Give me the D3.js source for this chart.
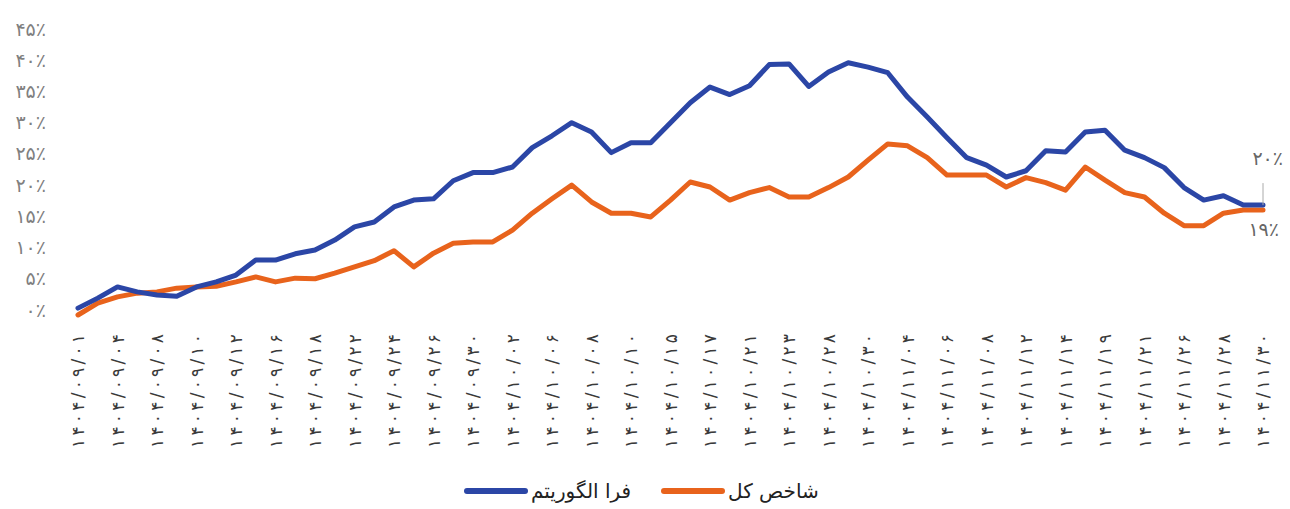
<!DOCTYPE html>
<html>
<head>
<meta charset="utf-8">
<script src="https://cdn.jsdelivr.net/npm/d3@7"></script>
<style>
  body { margin: 0; background: #fff; }
  svg { display: block; font-family: "DejaVu Sans", sans-serif; }
</style>
</head>
<body>
<svg width="1290" height="509"></svg>
<script>
// tick labels (every second point)
var dateLabels = [
  '۱۴۰۴/۰۹/۰۱','۱۴۰۴/۰۹/۰۴','۱۴۰۴/۰۹/۰۸','۱۴۰۴/۰۹/۱۰','۱۴۰۴/۰۹/۱۲','۱۴۰۴/۰۹/۱۶',
  '۱۴۰۴/۰۹/۱۸','۱۴۰۴/۰۹/۲۲','۱۴۰۴/۰۹/۲۴','۱۴۰۴/۰۹/۲۶','۱۴۰۴/۰۹/۳۰','۱۴۰۴/۱۰/۰۲',
  '۱۴۰۴/۱۰/۰۶','۱۴۰۴/۱۰/۰۸','۱۴۰۴/۱۰/۱۰','۱۴۰۴/۱۰/۱۵','۱۴۰۴/۱۰/۱۷','۱۴۰۴/۱۰/۲۱',
  '۱۴۰۴/۱۰/۲۳','۱۴۰۴/۱۰/۲۸','۱۴۰۴/۱۰/۳۰','۱۴۰۴/۱۱/۰۴','۱۴۰۴/۱۱/۰۶','۱۴۰۴/۱۱/۰۸',
  '۱۴۰۴/۱۱/۱۲','۱۴۰۴/۱۱/۱۴','۱۴۰۴/۱۱/۱۹','۱۴۰۴/۱۱/۲۱','۱۴۰۴/۱۱/۲۶','۱۴۰۴/۱۱/۲۸',
  '۱۴۰۴/۱۱/۳۰'
];
var yTicks = [0, 5, 10, 15, 20, 25, 30, 35, 40, 45];

// فرا الگوریتم (percent)
var algoValues = [
  0.3, 1.9, 3.7, 2.9, 2.4, 2.2, 3.7, 4.5, 5.6, 8.0,
  8.0, 9.0, 9.6, 11.2, 13.3, 14.1, 16.5, 17.6, 17.8, 20.7,
  22.0, 22.0, 22.9, 26.0, 27.9, 30.0, 28.5, 25.2, 26.8, 26.8,
  30.0, 33.2, 35.7, 34.5, 35.9, 39.3, 39.4, 35.8, 38.1, 39.6,
  38.9, 38.0, 34.1, 30.9, 27.6, 24.4, 23.2, 21.3, 22.3, 25.5,
  25.3, 28.5, 28.8, 25.6, 24.4, 22.8, 19.6, 17.6, 18.3, 16.8,
  16.8
];
// شاخص کل (percent)
var indexValues = [
  -0.8, 1.1, 2.1, 2.7, 2.9, 3.5, 3.7, 3.8, 4.5, 5.3,
  4.5, 5.1, 5.0, 5.9, 6.9, 7.9, 9.5, 6.9, 9.1, 10.7,
  10.9, 10.9, 12.8, 15.5, 17.8, 20.0, 17.3, 15.5, 15.5, 14.9,
  17.6, 20.5, 19.7, 17.6, 18.8, 19.6, 18.1, 18.1, 19.6, 21.3,
  24.0, 26.6, 26.3, 24.4, 21.6, 21.6, 21.6, 19.7, 21.2, 20.4,
  19.2, 22.9, 20.8, 18.8, 18.1, 15.5, 13.5, 13.5, 15.5, 16.0,
  16.0
];
var endLabels = ['۲۰٪', '۱۹٪'];
var seriesNames = ['فرا الگوریتم', 'شاخص کل'];
var seriesColors = ['#2b46a6', '#e8631c'];

var faDigits = '۰۱۲۳۴۵۶۷۸۹';
function toFa(n) {
  return String(n).replace(/[0-9]/g, function(d){ return faDigits[+d]; });
}

var svg = d3.select('svg');

var x = d3.scalePoint()
  .domain(d3.range(algoValues.length))
  .range([78, 1263]);

var y = d3.scaleLinear()
  .domain([0, 45])
  .range([310, 29]);

// y axis
var yAxis = svg.append('g')
  .attr('transform', 'translate(46,0)')
  .call(d3.axisLeft(y).tickValues(yTicks).tickSize(0).tickPadding(0)
    .tickFormat(function(d){ return toFa(d) + '٪'; }));
yAxis.select('.domain').remove();
yAxis.selectAll('text')
  .attr('fill', '#808080')
  .style('font-size', '19px')
  .style('font-family', '"DejaVu Sans", sans-serif');

// x axis
var xAxis = svg.append('g')
  .attr('transform', 'translate(0,331)')
  .call(d3.axisBottom(x)
    .tickValues(d3.range(0, algoValues.length, 2))
    .tickSize(0)
    .tickFormat(function(d){ return dateLabels[d / 2]; }));
xAxis.select('.domain').remove();
xAxis.selectAll('text')
  .attr('fill', '#3a3a3a')
  .style('font-size', '17px')
  .style('font-family', '"DejaVu Sans", sans-serif')
  .attr('text-anchor', 'end')
  .attr('textLength', 114)
  .attr('lengthAdjust', 'spacing')
  .attr('transform', 'rotate(-90)')
  .attr('x', -3)
  .attr('y', 0)
  .attr('dy', '0.35em');

// lines
var line = d3.line()
  .x(function(d, i){ return x(i); })
  .y(function(d){ return y(d); });

[indexValues, algoValues].forEach(function(vals, k){
  svg.append('path')
    .datum(vals)
    .attr('fill', 'none')
    .attr('stroke', k === 0 ? seriesColors[1] : seriesColors[0])
    .attr('stroke-width', 5)
    .attr('stroke-linejoin', 'round')
    .attr('stroke-linecap', 'round')
    .attr('d', line);
});

// end annotations
var lastI = algoValues.length - 1;
svg.append('line')
  .attr('x1', x(lastI)).attr('x2', x(lastI))
  .attr('y1', y(algoValues[lastI]) - 22).attr('y2', y(algoValues[lastI]))
  .attr('stroke', '#aaa')
  .attr('stroke-width', 1);

svg.append('text')
  .attr('x', 1283).attr('y', y(algoValues[lastI]) - 40)
  .attr('text-anchor', 'end')
  .attr('fill', '#666')
  .style('font-size', '19px')
  .text(endLabels[0]);

svg.append('text')
  .attr('x', 1279).attr('y', y(indexValues[lastI]) + 26)
  .attr('text-anchor', 'end')
  .attr('fill', '#666')
  .style('font-size', '19px')
  .text(endLabels[1]);

// legend: text on the right, swatch on its left
var legendItems = [
  {name: seriesNames[0], color: seriesColors[0], x: 467},
  {name: seriesNames[1], color: seriesColors[1], x: 664}
];
var legend = svg.selectAll('.legend')
  .data(legendItems)
  .enter()
  .append('g')
  .attr('class', 'legend')
  .attr('transform', function(d){ return 'translate(' + d.x + ',491)'; });

legend.append('line')
  .attr('x1', 0).attr('x2', 58)
  .attr('y1', 0).attr('y2', 0)
  .attr('stroke', function(d){ return d.color; })
  .attr('stroke-width', 6)
  .attr('stroke-linecap', 'round');

legend.append('text')
  .attr('x', 64)
  .attr('y', 7)
  .attr('direction', 'rtl')
  .attr('text-anchor', 'end')
  .attr('fill', '#222')
  .style('font-size', '20px')
  .text(function(d){ return d.name; });
</script>
</body>
</html>
